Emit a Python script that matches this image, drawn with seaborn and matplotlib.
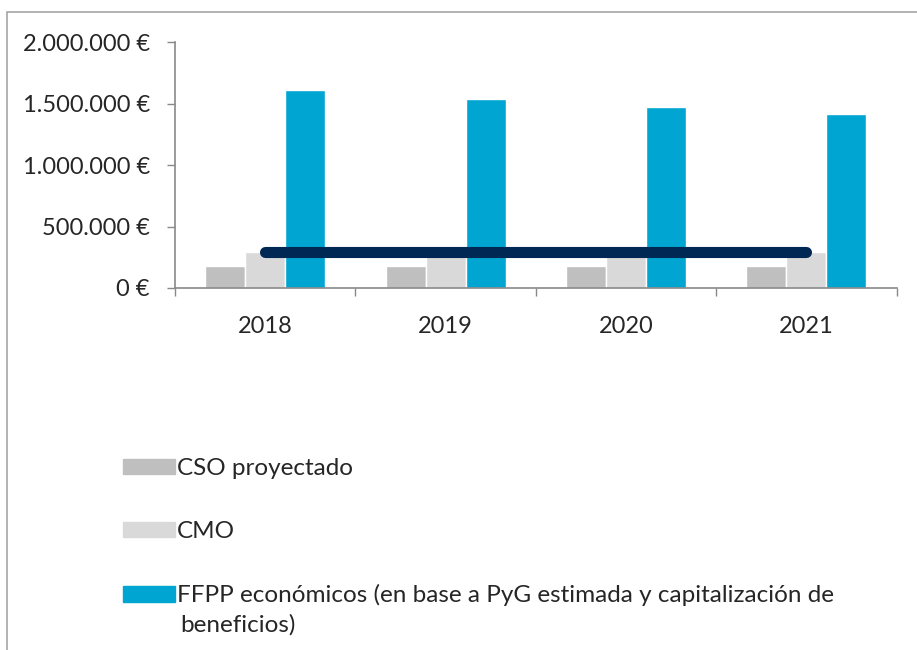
import numpy as np
import pandas as pd
import matplotlib
matplotlib.use('Agg')
import matplotlib.pyplot as plt
import matplotlib.patches as mpatches
import seaborn as sns

'''
data read from the chart
'''
years = ['2018', '2019', '2020', '2021']
series = [
    'CSO proyectado',
    'CMO',
    'FFPP económicos (en base a PyG estimada y capitalización de',
]
series_tail = 'beneficios)'
cso = [180000, 180000, 180000, 180000]
cmo = [295000, 295000, 295000, 295000]
ffpp = [1610000, 1542000, 1474000, 1417000]
limite = [292000, 292000, 292000, 292000]
y_ticks = [0, 500000, 1000000, 1500000, 2000000]

colors = ['#BFBFBF', '#D9D9D9', '#00A6D1']
line_color = '#002855'
axis_color = '#898989'

'''
long format table for seaborn
'''
df = pd.DataFrame({
    'year': years * 3,
    'serie': [series[0]] * 4 + [series[1]] * 4 + [series[2]] * 4,
    'value': cso + cmo + ffpp,
})

sns.set_style('white')
plt.rcParams['font.family'] = ['Lato', 'DejaVu Sans']

fig = plt.figure(figsize=(9.17, 6.5), dpi=100)
ax = fig.add_axes([0.1908, 0.557, 0.787, 0.378])

sns.barplot(
    data=df,
    x='year',
    y='value',
    hue='serie',
    hue_order=series,
    order=years,
    palette=colors,
    width=0.665,
    gap=0,
    saturation=1,
    errorbar=None,
    legend=False,
    ax=ax,
)

sns.lineplot(
    x=np.arange(len(years)),
    y=limite,
    color=line_color,
    linewidth=8,
    solid_capstyle='round',
    ax=ax,
)

ax.set_xlim(-0.5, len(years) - 0.5)
ax.set_ylim(0, 2000000)
ax.set_yticks(y_ticks)
ax.set_yticklabels([f'{v:,.0f}'.replace(',', '.') + ' €' for v in y_ticks])
ax.set_xticks(range(len(years)))
ax.set_xticklabels(years)
ax.set_xticks(np.arange(-0.5, len(years)), minor=True)
ax.set_xlabel('')
ax.set_ylabel('')

ax.tick_params(axis='x', which='major', length=0, pad=20, labelsize=17)
ax.tick_params(axis='x', which='minor', length=6, width=1, color=axis_color,
               direction='out', bottom=True)
ax.tick_params(axis='y', length=6, width=1, color=axis_color, direction='out',
               left=True, pad=12, labelsize=17)

for side in ['top', 'right']:
    ax.spines[side].set_visible(False)
for side in ['left', 'bottom']:
    ax.spines[side].set_color(axis_color)
    ax.spines[side].set_linewidth(1.2)

'''
legend below the plot
'''
handles = [mpatches.Patch(color=c, label=s) for c, s in zip(colors, series)]
leg = fig.legend(
    handles=handles,
    loc='upper left',
    bbox_to_anchor=(0.123, 0.31),
    frameon=False,
    fontsize=17.5,
    handlelength=2.15,
    handleheight=0.6,
    handletextpad=0.1,
    labelspacing=1.73,
    borderaxespad=0,
)
# second line of the long legend label
fig.text(180 / 917, 1 - 625 / 650, series_tail,
         ha='left', va='center', fontsize=17.5)

'''
chart frame
'''
fig.patches.append(mpatches.Rectangle(
    (7 / 917, -0.1), 1.2, 1.1 - 12 / 650,
    transform=fig.transFigure, fill=False,
    edgecolor='#A6A6A6', linewidth=1.2,
))

plt.savefig('out.png', dpi=100)
